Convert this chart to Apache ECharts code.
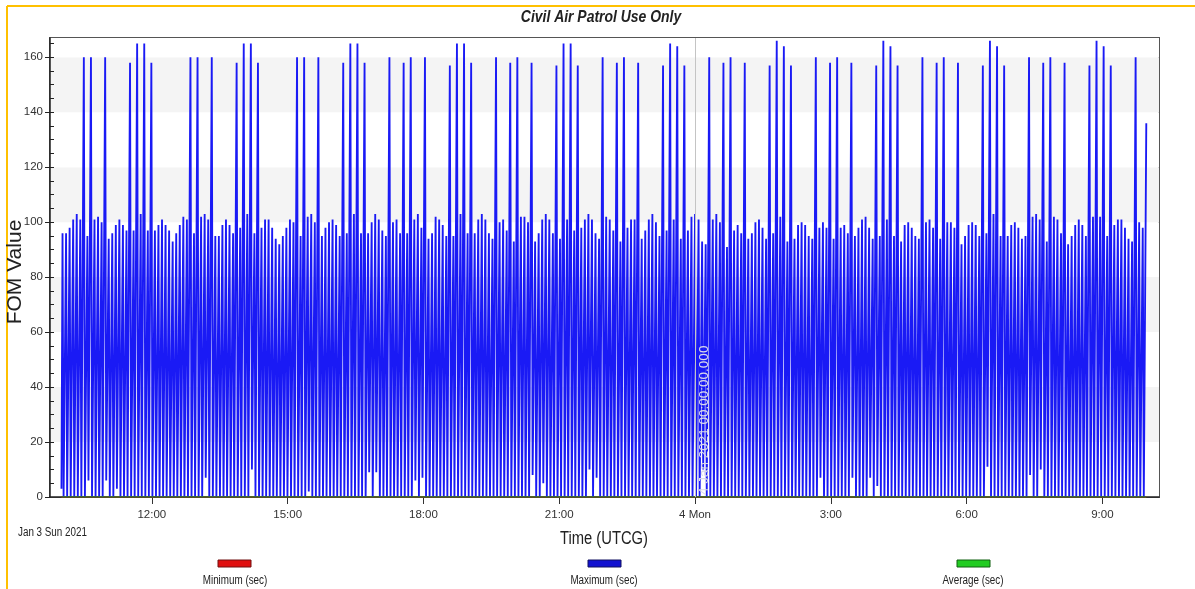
<!DOCTYPE html>
<html><head><meta charset="utf-8">
<script src="https://cdn.jsdelivr.net/npm/echarts@6/dist/echarts.min.js"></script>
<style>html,body{margin:0;padding:0;background:#fff}#c{width:1195px;height:589px}</style>
</head><body><div id="c"></div>
<script>
// Peak value of each FOM cycle (Maximum series)
const peaks = [
  96,96,98,101,103,101,160,95,160,101,102,100,160,94,96,99,101,99,97,158,97,165,103,165,97,158,97,99,101,99,
  97,93,96,99,102,101,160,96,160,102,103,101,160,95,95,99,101,99,96,158,98,165,103,165,96,158,98,101,101,98,
  94,92,95,98,101,100,160,95,160,102,103,100,160,95,98,100,101,99,95,158,96,165,103,165,96,158,96,100,103,101,
  97,95,160,100,101,96,158,96,160,101,103,98,160,94,96,102,101,99,95,157,95,165,103,165,96,158,96,101,103,101,
  96,94,160,100,101,97,158,93,160,102,102,100,158,93,96,101,103,101,96,157,94,165,101,165,97,157,98,101,103,101,
  96,94,160,102,101,97,158,93,160,98,101,101,158,94,97,101,103,100,95,157,97,165,101,164,94,157,97,102,103,101,
  93,92,160,101,103,100,158,91,160,97,99,96,158,94,96,100,101,98,94,157,96,166,102,164,93,157,94,99,100,99,
  95,94,160,98,100,98,158,94,160,98,99,96,158,95,98,101,102,98,94,157,95,166,101,164,95,157,93,99,100,98,
  95,94,160,100,101,98,158,94,160,100,100,98,158,92,95,99,100,99,95,157,96,166,103,164,95,157,95,99,100,98,
  94,95,160,102,103,101,158,93,160,102,101,96,158,92,95,99,101,99,95,157,102,166,102,164,95,157,99,101,101,98,
  94,93,160,100,98,136
];
// Low value between consecutive peaks
const valleys = [
  0,0,0,0,0,0,0,6,0,0, 0,0,6,0,0,3,0,0,0,0, 0,0,0,0,0,0,0,0,0,0,
  0,0,0,0,0,0,0,0,0,0, 7,0,0,0,0,0,0,0,0,0, 0,0,0,10,0,0,0,0,0,0,
  0,0,0,0,0,0,0,0,0,2, 0,0,0,0,0,0,0,0,0,0, 0,0,0,0,0,0,9,0,9,0,
  0,0,0,0,0,0,0,0,0,6, 0,7,0,0,0,0,0,0,0,0, 0,0,0,0,0,0,0,0,0,0,
  0,0,0,0,0,0,0,0,0,0, 0,0,8,0,0,5,0,0,0,0, 0,0,0,0,0,0,0,0,10,0,
  7,0,0,0,0,0,0,0,0,0, 0,0,0,0,0,0,0,0,0,0, 0,0,0,0,0,0,0,0,0,0,
  10,0,0,0,0,0,0,0,0,0, 0,0,0,0,0,0,0,0,0,0, 0,0,0,0,0,0,0,0,0,0,
  0,0,0,7,0,0,0,0,0,0, 0,0,7,0,0,0,0,7,0,4, 0,0,0,0,0,0,0,0,0,0,
  0,0,0,0,0,0,0,0,0,0, 0,0,0,0,0,0,0,0,0,0, 11,0,0,0,0,0,0,0,0,0,
  0,0,8,0,0,10,0,0,0,0, 0,0,0,0,0,0,0,0,0,0, 0,0,0,0,0,0,0,0,0,0,
  0,0,0,0,0
];
const startValue = 3;
const minimumValues = [0, 0];
const averageValues = [0, 0];
const tickLabels = ['12:00','15:00','18:00','21:00','4 Mon','3:00','6:00','9:00'];
const tickTimes = [
  Date.UTC(2021,0,3,12), Date.UTC(2021,0,3,15), Date.UTC(2021,0,3,18), Date.UTC(2021,0,3,21),
  Date.UTC(2021,0,4,0), Date.UTC(2021,0,4,3), Date.UTC(2021,0,4,6), Date.UTC(2021,0,4,9)
];
const yMinorTicks = [5,10,15,20,25,30,35,40,45,50,55,60,65,70,75,80,85,90,95,100,105,110,115,120,125,130,135,140,145,150,155,160,165];
const axisMin = Date.UTC(2021,0,3,9,45);
const axisMax = Date.UTC(2021,0,4,10,15);
const seriesStart = Date.UTC(2021,0,3,9,59,15);
const halfStepMs = 141300;
const riseMs = 0.6 * halfStepMs;
const midnight = Date.UTC(2021,0,4,0);

const peakTime = i => seriesStart + (2*i+1)*halfStepMs;
const maxData = [[peakTime(0) - riseMs, startValue]];
for (let i = 0; i < peaks.length; i++) {
  maxData.push([peakTime(i), peaks[i]]);
  if (i < valleys.length) {
    maxData.push([peakTime(i) + riseMs, valleys[i]]);
    maxData.push([peakTime(i+1) - riseMs, valleys[i]]);
  }
}
const firstTime = maxData[0][0];
const lastTime = maxData[maxData.length-1][0];
const minData = [[firstTime, minimumValues[0]], [lastTime, minimumValues[1]]];
const avgData = [[firstTime, averageValues[0]], [lastTime, averageValues[1]]];

const SANS = "'Liberation Sans',Arial,sans-serif";
const SX = 0.82;
const chart = echarts.init(document.getElementById('c'), null, {renderer:'canvas'});
chart.setOption({
  animation: false,
  backgroundColor: '#ffffff',
  grid: {left: 50, right: 36, top: 38, bottom: 92, outerBoundsMode: 'none', containLabel: false,
    show: true, borderColor: '#555', borderWidth: 2, backgroundColor: 'transparent'},
  xAxis: {
    type: 'value', min: axisMin, max: axisMax, scale: true,
    axisLine: {lineStyle: {color: '#222', width: 1.5}},
    axisTick: {show: true, customValues: tickTimes, length: 7, lineStyle: {color: '#333'}},
    axisLabel: {customValues: tickTimes, margin: 12, fontFamily: SANS, fontSize: 11.5, color: '#333',
      formatter: function (v) { const k = tickTimes.indexOf(Number(v)); return k >= 0 ? tickLabels[k] : ''; }},
    splitLine: {show: false}
  },
  yAxis: [{
    type: 'value', min: 0, max: 167, interval: 20,
    axisLine: {show: true, lineStyle: {color: '#222', width: 1.5}},
    axisTick: {show: true, length: 5, lineStyle: {color: '#222'}},
    axisLabel: {showMaxLabel: false, margin: 7, fontFamily: SANS, fontSize: 11.5, color: '#333'},
    splitLine: {show: false},
    splitArea: {show: true, areaStyle: {color: ['#ffffff', '#f4f4f4']}}
  }, {
    type: 'value', min: 0, max: 167, position: 'left',
    axisLine: {show: false}, axisLabel: {show: false}, splitLine: {show: false},
    axisTick: {show: true, inside: true, length: 4, customValues: yMinorTicks, lineStyle: {color: '#222'}}
  }],
  series: [
    {name: 'Minimum (sec)', type: 'line', data: minData, showSymbol: false, lineStyle: {color: '#dd1111', width: 1.5}, z: 2},
    {name: 'Maximum (sec)', type: 'line', data: maxData, showSymbol: false,
      lineStyle: {color: '#1a1af5', width: 1.85}, z: 3,
      markLine: {silent: true, symbol: 'none', animation: false,
        lineStyle: {color: '#c4c4c4', width: 1, type: 'solid'},
        label: {show: true, position: 'insideStartBottom', formatter: '4 Jan 2021 00:00:00.000',
          fontFamily: SANS, fontSize: 13.5, color: '#d8d8ea', distance: 2},
        data: [{xAxis: midnight}]}},
    {name: 'Average (sec)', type: 'line', data: avgData, showSymbol: false, lineStyle: {color: '#2a7a2a', width: 1.5}, z: 4}
  ],
  graphic: [
    {type: 'line', shape: {x1: 7, y1: 6, x2: 1195, y2: 6}, style: {stroke: '#ffc000', lineWidth: 2}},
    {type: 'line', shape: {x1: 7, y1: 6, x2: 7, y2: 589}, style: {stroke: '#ffc000', lineWidth: 2}},
    {type: 'text', x: 601, y: 9, scaleX: SX, style: {text: 'Civil Air Patrol Use Only', textAlign: 'center', fontFamily: SANS, fontSize: 17, fontWeight: 'bold', fontStyle: 'italic', fill: '#222'}},
    {type: 'text', x: 15, y: 272, rotation: Math.PI/2, style: {text: 'FOM Value', textAlign: 'center', textVerticalAlign: 'middle', fontFamily: SANS, fontSize: 21, fill: '#222'}},
    {type: 'text', x: 604, y: 530, scaleX: SX, style: {text: 'Time (UTCG)', textAlign: 'center', fontFamily: SANS, fontSize: 18, fill: '#222'}},
    {type: 'text', x: 18, y: 527, scaleX: SX, style: {text: 'Jan 3 Sun 2021', fontFamily: SANS, fontSize: 12, fill: '#222'}},
    {type: 'rect', shape: {x: 218, y: 560, width: 33, height: 7}, style: {fill: '#e01010', stroke: '#701010', lineWidth: 1}},
    {type: 'text', x: 235, y: 575, scaleX: SX, style: {text: 'Minimum (sec)', textAlign: 'center', fontFamily: SANS, fontSize: 12, fill: '#222'}},
    {type: 'rect', shape: {x: 588, y: 560, width: 33, height: 7}, style: {fill: '#1212d0', stroke: '#101060', lineWidth: 1}},
    {type: 'text', x: 604, y: 575, scaleX: SX, style: {text: 'Maximum (sec)', textAlign: 'center', fontFamily: SANS, fontSize: 12, fill: '#222'}},
    {type: 'rect', shape: {x: 957, y: 560, width: 33, height: 7}, style: {fill: '#22cc22', stroke: '#106010', lineWidth: 1}},
    {type: 'text', x: 973, y: 575, scaleX: SX, style: {text: 'Average (sec)', textAlign: 'center', fontFamily: SANS, fontSize: 12, fill: '#222'}}
  ]
});
</script></body></html>
